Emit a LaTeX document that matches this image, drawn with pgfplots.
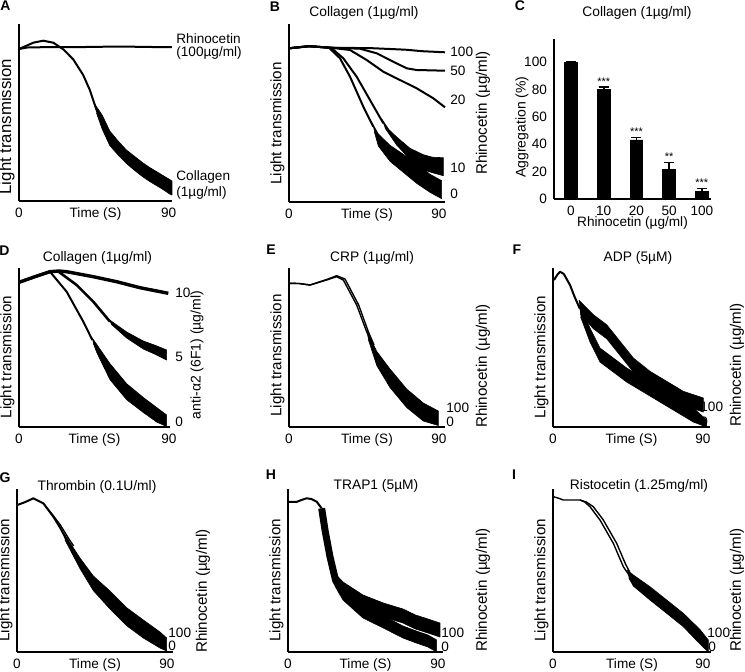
\documentclass[border=0pt]{standalone}
\usepackage{fontspec}
\setmainfont{Liberation Sans}
\usepackage{pgfplots}
\pgfplotsset{compat=1.18}

\newcommand\fs[1]{\fontsize{#1}{#1}\selectfont}

\pgfplotsset{
  trace/.style={
    scale only axis, clip=false, anchor=south west,
    axis x line*=bottom, axis y line*=left,
    axis line style={line width=1.1pt},
    xmin=0, ymin=0,
    xtick={0,90}, ytick=\empty,
    major tick length=0pt,
    tick label style={font=\fs{6.8}},
    /pgf/number format/assume math mode=true,
    xlabel={Time (S)}, ylabel={Light transmission},
    xlabel style={font=\fs{6.8}, at={(axis description cs:0.5,0)}, anchor=north},
    ylabel style={font=\fs{7.6}, at={(axis description cs:0,0.44)}, anchor=south, inner sep=2pt},
  },
  tr/.style={black, line width=1pt, line join=round, mark=none},
  thin/.style={black, line width=0.7pt, line join=round, mark=none},
  band/.style={fill=black, draw=black, line width=0.3pt, line join=round, mark=none},
}

\begin{document}
\begin{tikzpicture}[font=\fs{6.8}]
\useasboundingbox (0,0) rectangle (372.5pt,-335.5pt);

% ---------------- A
\begin{axis}[trace, at={(9.5pt,-100.5pt)}, width=76.5pt, height=88.5pt, xmax=92, ymax=177,
  ylabel style={font=\fs{8.4}, at={(axis description cs:0,0.42)}}]
\addplot[tr] coordinates {(0,152) (5,153.5) (20,154) (40,154) (60,154.5) (80,154) (92,154)};
\addplot[tr] coordinates {(0,152) (8.6,158.3) (14.6,160.3) (20.6,158.3) (26.6,151.7) (32.6,141.7)
  (38.6,126) (42.6,111) (46.6,91)};
\addplot[band] coordinates {(45.5,97) (50,86) (54.6,70) (59.6,60) (64.6,51) (69.6,44.5) (74.6,38)
  (78.6,33.5) (82.6,29.5) (86.6,25.5) (90.6,21.5) (92,20)
  (92,6) (90.6,7) (86.6,11.5) (82.6,15.5) (78.6,19.5) (74.6,24) (69.6,30.5) (64.6,37.5)
  (59.6,46) (54.6,55.5) (50,72) (46.6,88)};
\end{axis}

% ---------------- B
\begin{axis}[trace, at={(144.5pt,-100.85pt)}, width=78pt, height=88.85pt, xmax=93.6, ymax=177.7]
\addplot[tr] coordinates {(0,153.4) (12,155.5) (25,154) (50,153.5) (70,152) (80,150.5) (93.6,149.4)};
\addplot[tr] coordinates {(0,153.4) (12,155.5) (25,154) (42.6,153) (52.6,148.4) (62.6,140)
  (70.6,133.4) (76.6,131.7) (93.6,131)};
\addplot[tr] coordinates {(0,153.4) (12,155.5) (25,154) (36.6,151.7) (46.6,141.7) (56.6,130)
  (66.6,121.7) (76.6,113.4) (86.6,103.4) (93.6,94.4)};
\addplot[tr] coordinates {(0,153.4) (12,155.5) (24,154) (26.6,152) (32.6,143.4) (40.6,125)
  (48.6,101.7) (56.6,78.4)};
\addplot[band] coordinates {(55.5,83) (60,72) (64.6,64.7) (72.6,53.4) (80.6,47) (86,44.5) (92.6,44)
  (92.6,26) (86,29) (80.6,32) (72.6,42.4) (64.6,56.7) (57.5,74)};
\addplot[tr] coordinates {(0,153.4) (12,155.5) (24,154) (30.6,143.4) (36.6,125) (44.6,95) (50.6,75)};
\addplot[band] coordinates {(49.8,79) (53.6,67.7) (60.6,56.4) (68.6,47.4) (76.6,38.4) (84.6,27.4)
  (91.6,21) (91.6,3) (84.6,9.4) (76.6,18.4) (68.6,29.4) (60.6,40.4) (53.6,55.7) (51.2,70)};
\end{axis}

% ---------------- C
\begin{axis}[scale only axis, clip=false, anchor=south west, at={(277pt,-99.5pt)},
  width=78.5pt, height=80pt,
  axis x line*=bottom, axis y line*=left, axis line style={line width=1.1pt},
  ybar, bar width=0.39,
  xmin=-0.52, xmax=4.28, ymin=0, ymax=117,
  xtick={0,1,2,3,4}, xticklabels={0,10,20,50,100},
  ytick={0,20,40,60,80,100},
  major tick length=0pt,
  tick label style={font=\fs{6.8}},
  /pgf/number format/assume math mode=true,
  xlabel={Rhinocetin (µg/ml)}, ylabel={Aggregation (\%)},
  xlabel style={font=\fs{6.8}, at={(axis description cs:0.5,-0.105)}, anchor=north, inner sep=0pt},
  ylabel style={font=\fs{7}, at={(axis description cs:-0.16,0.45)}, anchor=south, inner sep=0pt},
]
\addplot[fill=black, draw=black,
  error bars/.cd, y dir=plus, y explicit,
  error bar style={line width=0.8pt},
  error mark options={rotate=90, mark size=2.5pt, line width=0.8pt}]
  coordinates {(0,100) +- (0,0) (1,79.8) +- (0,2.2) (2,43.2) +- (0,1.7)
               (3,21.7) +- (0,5) (4,5.6) +- (0,2)};
\node[font=\fs{5.5}] at (axis cs:1,86) {***};
\node[font=\fs{5.5}] at (axis cs:2,49) {***};
\node[font=\fs{5.5}] at (axis cs:3,30.7) {**};
\node[font=\fs{5.5}] at (axis cs:4,11.7) {***};
\end{axis}

% ---------------- D
\begin{axis}[trace, at={(9.5pt,-213.5pt)}, width=75.5pt, height=79.5pt, xmax=90.6, ymax=159]
\addplot[tr, line width=1.7pt] coordinates {(0,144.7) (9,150) (18.6,155.3) (24,156) (28.6,155.3)
  (44.6,150.3) (58.6,145.3) (72.6,139.3) (89.6,133.7)};
\addplot[tr, line width=1.3pt] coordinates {(0,144.7) (9,150) (18.6,155.3) (23.6,155.5) (34.6,142)
  (44.6,125.3) (54.6,105.3)};
\addplot[band] coordinates {(54,107.5) (64.6,95) (74.6,86) (82,81.5) (88.6,77)
  (88.6,67) (82,72.5) (74.6,78) (64.6,89) (55.2,103)};
\addplot[tr] coordinates {(0,144.7) (9,150) (18.6,155.3) (28.6,135.3) (38.6,105.3) (44,87)};
\addplot[band] coordinates {(43.5,90) (46.6,82.7) (54.6,63.3) (64.6,43.3) (74.6,29.5) (82.6,19.5)
  (88.6,12) (88.6,0.5) (82.6,5) (74.6,14.5) (64.6,27.3) (54.6,47.3) (46.6,74.7) (44.5,84)};
\end{axis}

% ---------------- E
\begin{axis}[trace, at={(144.5pt,-213.5pt)}, width=78pt, height=79.5pt, xmax=93.6, ymax=159,
  ylabel style={at={(axis description cs:0,0.45)}}]
\addplot[thin] coordinates {(0,143.7) (6,143.5) (12.6,142) (22.6,147) (28.6,150.3) (32.6,147)
  (40.6,122) (46.6,95.3) (50,82)};
\addplot[thin] coordinates {(0,143.7) (6,143.5) (12.6,142) (22.6,147.5) (28.6,151.3) (33.6,148)
  (41.8,122) (47.6,95.3) (51,82)};
\addplot[band] coordinates {(46.5,97) (52.6,75.7) (60.6,58) (70.6,38) (80.6,24) (89.6,16)
  (89.6,1.5) (80.6,6) (70.6,19.5) (60.6,39.5) (52.6,61.7) (47.5,88)};
\end{axis}

% ---------------- F
\begin{axis}[trace, at={(276.5pt,-213.5pt)}, width=78.5pt, height=79.5pt, xmax=94.2, ymax=159]
\addplot[tr] coordinates {(0.6,147) (2.5,152) (4.2,155.3) (6.5,153) (10.2,142) (13,130) (16.2,118)};
\addplot[band] coordinates {(15.5,127) (24.2,112.3) (32.2,102.3) (40.2,85.7) (48.2,69) (58.2,55.7)
  (68.2,45.7) (78.2,35.7) (90.2,29) (90.2,15) (78.2,21.7) (68.2,31.7) (58.2,41.7) (48.2,55)
  (40.2,71.7) (32.2,88.3) (24.2,98.3) (16.5,113)};
\addplot[band] coordinates {(15.8,122) (22.2,99) (28.2,79) (36.2,69) (44.2,59) (54.2,49) (64.2,39)
  (74.2,29) (84.2,19) (92.2,7) (92.2,0) (84.2,5) (74.2,15) (64.2,25) (54.2,35) (44.2,45)
  (36.2,55) (28.2,65) (22.2,85) (16.6,110)};
\end{axis}

% ---------------- G
\begin{axis}[trace, at={(8.5pt,-326pt)}, width=78pt, height=81.5pt, xmax=93.6, ymax=163]
\addplot[tr] coordinates {(0.2,147) (5,150) (9.8,153.7) (15.8,148.7) (21.8,135.3) (26,124) (29.8,112)};
\addplot[thin] coordinates {(15.8,148.7) (21.8,136.3) (26,127) (30.8,114) (34,106)};
\addplot[band] coordinates {(28,119) (37.8,94) (45.8,76) (55.8,61) (65.8,44.3) (75.8,32) (85.8,20)
  (89.8,14) (89.8,1) (85.8,4) (75.8,14) (65.8,26.3) (55.8,43) (45.8,61.4) (37.8,83.4) (28.8,112)};
\end{axis}

% ---------------- H
\begin{axis}[trace, at={(144pt,-326pt)}, width=77.5pt, height=81.5pt, xmax=93, ymax=163]
\addplot[tr] coordinates {(0,150.3) (5,150) (8,152) (11.2,153.7) (14,153) (17.2,150.3) (20.2,143.7)};
\addplot[tr, line width=3.5pt] coordinates {(20.2,143.7) (22.2,122) (25.2,95.3) (28.5,72) (31,64)};
\addplot[band] coordinates {(28.5,78) (33,70) (45,57) (57.2,49) (69,43) (76.5,37) (84,33) (91.2,29)
  (91.2,15) (84,19) (76.5,23) (69,29) (57.2,35) (45,43) (33,58)};
\addplot[band] coordinates {(29.5,72) (33,64) (45,46) (57.2,36) (69,26) (76.5,21.3) (84,17) (89.2,12)
  (89.2,0) (84,5) (76.5,9.3) (69,14) (57.2,24) (45,34) (33,52) (29.5,62)};
\end{axis}

% ---------------- I
\begin{axis}[trace, at={(276.5pt,-326pt)}, width=79pt, height=81.5pt, xmax=94.8, ymax=163]
\addplot[thin] coordinates {(0.2,155.3) (3,154) (6.2,152) (16.2,152) (19,150) (22.2,145.3)
  (28.2,132) (36.2,108.7) (42.2,85.3) (46,76)};
\addplot[thin] coordinates {(16.2,152) (20,150) (24.2,145.3) (30.2,132) (38.2,108.7) (43.5,88) (46,80)};
\addplot[band] coordinates {(44.5,82) (48.2,77) (58.2,65.3) (68.2,52) (78.2,38.7) (88.2,22.5) (93.2,12)
  (93.2,0) (88.2,8) (78.2,25.3) (68.2,38.7) (58.2,52) (48.2,66) (45.5,74)};
\end{axis}

% ---------------- panel letters, titles and side labels (pixel grid)
\begin{scope}[x=0.5pt, y=-0.5pt, every node/.append style={inner sep=0pt}]
\foreach \l/\x/\y in {A/5.5/6, B/275/7, C/520/6, D/4.5/251, E/271/250, F/517/250,
                      G/5/478, H/271/475, I/514/475}
  \node[font=\bfseries\fs{7}] at (\x,\y) {\l};

\node[anchor=west] at (176,39) {Rhinocetin};
\node[anchor=west] at (176,53) {(100µg/ml)};
\node[anchor=west] at (176,177) {Collagen};
\node[anchor=west] at (176,193) {(1µg/ml)};

\node[font=\fs{6.9}] at (364,13) {Collagen (1µg/ml)};
\foreach \t/\y in {100/52, 50/71, 20/100, 10/168, 0/194}
  \node[anchor=west] at (450,\y) {\t};
\node[rotate=90, font=\fs{7.6}] at (483,113) {Rhinocetin (µg/ml)};

\node[font=\fs{6.9}] at (637,13) {Collagen (1µg/ml)};

\node[font=\fs{6.9}] at (97.5,258) {Collagen (1µg/ml)};
\foreach \t/\y in {10/293, 5/357, 0/422}
  \node[anchor=west] at (175,\y) {\t};
\node[rotate=90, font=\fs{7}] at (197,355) {anti-α2 (6F1) (µg/ml)};

\node[font=\fs{6.9}] at (372,258) {CRP (1µg/ml)};
\node[anchor=west] at (446,408) {100};
\node[anchor=west] at (446,422) {0};
\node[rotate=90, font=\fs{7.6}] at (483,366) {Rhinocetin (µg/ml)};

\node[font=\fs{6.9}] at (638,258) {ADP (5µM)};
\node[anchor=west] at (700,407) {100};
\node[anchor=west] at (700,422) {0};
\node[rotate=90, font=\fs{7.6}] at (737,365) {Rhinocetin (µg/ml)};

\node[font=\fs{6.9}] at (97,487) {Thrombin (0.1U/ml)};
\node[anchor=west] at (168,633) {100};
\node[anchor=west] at (168,646) {0};
\node[rotate=90, font=\fs{7.6}] at (203,591) {Rhinocetin (µg/ml)};

\node[font=\fs{6.9}] at (376,486) {TRAP1 (5µM)};
\node[anchor=west] at (441,633) {100};
\node[anchor=west] at (441,647) {0};
\node[rotate=90, font=\fs{7.6}] at (483,590) {Rhinocetin (µg/ml)};

\node[font=\fs{6.9}] at (639,486) {Ristocetin (1.25mg/ml)};
\node[anchor=west] at (707,633) {100};
\node[anchor=west] at (708,647) {0};
\node[rotate=90, font=\fs{7.6}] at (737,590) {Rhinocetin (µg/ml)};
\end{scope}
\end{tikzpicture}
\end{document}
